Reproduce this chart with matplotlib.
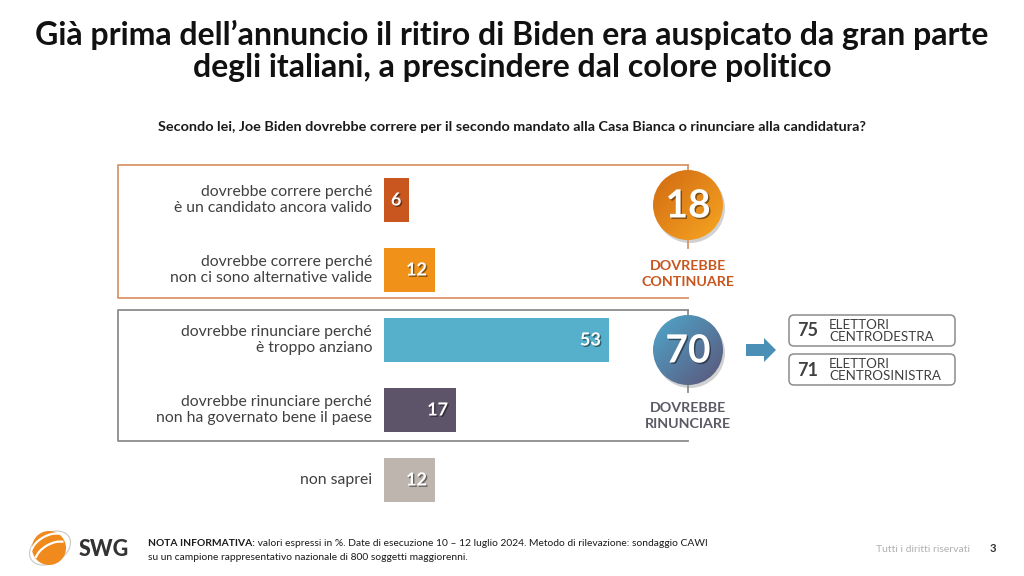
"""
Sondaggio SWG - ritiro di Biden
"""

import numpy as np
import matplotlib
matplotlib.use('Agg')
import matplotlib.pyplot as plt
import matplotlib.patheffects as pe
from matplotlib.patches import Circle, Arc, FancyBboxPatch, FancyArrow
from matplotlib.colors import to_rgb

# dati
labels = [
    'dovrebbe correre perché\nè un candidato ancora valido',
    'dovrebbe correre perché\nnon ci sono alternative valide',
    'dovrebbe rinunciare perché\nè troppo anziano',
    'dovrebbe rinunciare perché\nnon ha governato bene il paese',
    'non saprei',
]
values = [6, 12, 53, 17, 12]
bar_colors = ['#C8561E', '#F0921A', '#56AFCB', '#5E5469', '#BDB5AE']

totals = [18, 70]
total_labels = ['DOVREBBE\nCONTINUARE', 'DOVREBBE\nRINUNCIARE']
total_colors = ['#C8561E', '#5A5A66']

elettori_values = [75, 71]
elettori_labels = ['ELETTORI\nCENTRODESTRA', 'ELETTORI\nCENTROSINISTRA']

title = ("Già prima dell’annuncio il ritiro di Biden era auspicato da gran parte\n"
         "degli italiani, a prescindere dal colore politico")
subtitle = ("Secondo lei, Joe Biden dovrebbe correre per il secondo mandato "
            "alla Casa Bianca o rinunciare alla candidatura?")
nota_bold = 'NOTA INFORMATIVA:'
nota = (' valori espressi in %. Date di esecuzione 10 – 12 luglio 2024. '
        'Metodo di rilevazione: sondaggio CAWI')
nota2 = 'su un campione rappresentativo nazionale di 800 soggetti maggiorenni.'

plt.rcParams['font.family'] = ['Lato', 'DejaVu Sans']

W, H = 1024, 576
fig = plt.figure(figsize=(10.24, 5.76), dpi=100)
fig.patch.set_facecolor('white')

# overlay in coordinate pixel per cornici e testi
ov = fig.add_axes([0, 0, 1, 1])
ov.set_xlim(0, W)
ov.set_ylim(H, 0)
ov.axis('off')

# asse delle barre: 0..60 %, categorie 0..4 (70 px di passo)
px_per_unit = 225 / 53
x_left, x_max = 384, 60
y_top, y_bot = 165, 515
ax = fig.add_axes([x_left / W, 1 - y_bot / H, x_max * px_per_unit / W, (y_bot - y_top) / H])
ax.set_xlim(0, x_max)
ax.set_ylim(len(values) - 0.5, -0.5)
ax.axis('off')
ax.patch.set_alpha(0)

ypos = np.arange(len(values))
ax.barh(ypos, values, height=0.63, color=bar_colors)
shadow = [pe.withSimplePatchShadow(offset=(1, -1), shadow_rgbFace='black', alpha=0.45)]
for y, v in zip(ypos, values):
    ax.text(v - 1.9, y, str(v), ha='right', va='center', color='white',
            fontsize=13, fontweight='bold', path_effects=shadow)
    ax.text(-12 / px_per_unit, y, labels[y], ha='right', va='center',
            color='#404040', fontsize=11.3, linespacing=1.2)

# titolo e domanda
ov.text(512, 51, title, ha='center', va='center', fontsize=23,
        fontweight='bold', color='#111111', linespacing=1.12)
ov.text(512, 127, subtitle, ha='center', va='center', fontsize=10.4,
        fontweight='bold', color='#1A1A1A')

# cornici
ov.plot([688, 118, 118, 688], [165, 165, 298, 298], color='#D9956A', lw=1.3)
ov.plot([688, 118, 118, 688], [310, 310, 441, 441], color='#8C8C8C', lw=1.3)
ov.plot([688, 688], [165, 172], color='#D9956A', lw=1.3)
ov.plot([688, 688], [238, 248], color='#D9956A', lw=1.3)
ov.plot([688, 688], [310, 316], color='#8C8C8C', lw=1.3)
ov.plot([688, 688], [384, 392], color='#8C8C8C', lw=1.3)


def gradient_circle(cx, cy, r, c1, c2):
    n = 200
    gx, gy = np.meshgrid(np.linspace(0, 1, n), np.linspace(0, 1, n))
    t = np.clip((gx + gy) / 2, 0, 1)[..., None]
    img = (1 - t) * np.array(to_rgb(c1)) + t * np.array(to_rgb(c2))
    ov.add_patch(Circle((cx + 2, cy + 3), r, color='#000000', alpha=0.18, lw=0))
    circ = Circle((cx, cy), r, transform=ov.transData, facecolor='none', lw=0)
    ov.add_patch(circ)
    im = ov.imshow(img, extent=(cx - r, cx + r, cy + r, cy - r), origin='upper',
                   aspect='auto', zorder=3)
    im.set_clip_path(circ)


circle_y = [205, 350]
circle_cols = [('#D06A12', '#F8A622'), ('#4FA8CC', '#5B5478')]
text_y = [274, 416]
for i, tot in enumerate(totals):
    gradient_circle(688, circle_y[i], 35, *circle_cols[i])
    ov.text(688, circle_y[i] + 1, str(tot), ha='center', va='center', color='white',
            fontsize=28, fontweight='bold', zorder=4, path_effects=shadow)
    ov.text(688, text_y[i], total_labels[i], ha='center', va='center',
            color=total_colors[i], fontsize=10.3, fontweight='bold', linespacing=1.3)
ov.set_xlim(0, W)
ov.set_ylim(H, 0)

# freccia e riquadri elettori
ov.add_patch(FancyArrow(746, 350, 18, 0, width=12, head_width=24, head_length=12,
                        length_includes_head=False, color='#4A8FB5', lw=0))
box_y = [315, 354]
for i, (v, lab) in enumerate(zip(elettori_values, elettori_labels)):
    ov.add_patch(FancyBboxPatch((789, box_y[i]), 166, 31,
                                boxstyle='round,pad=0,rounding_size=5',
                                facecolor='white', edgecolor='#8C8C8C', lw=1.1))
    ov.text(808, box_y[i] + 16, str(v), ha='center', va='center',
            color='#404040', fontsize=13, fontweight='bold')
    ov.text(829, box_y[i] + 16, lab, ha='left', va='center',
            color='#404040', fontsize=9.6, linespacing=1.0)

# piè di pagina: logo
ov.add_patch(Arc((50, 548), 44, 30, angle=-30, theta1=0, theta2=360,
                 color='#C8C8C8', lw=0.8))
ov.add_patch(Circle((49, 548), 17, color='#F08A1C', lw=0))
for k, off in enumerate([-9, -1, 7]):
    ov.add_patch(Arc((49 + off * 0.5, 548 + off), 38, 22, angle=-30,
                     theta1=200, theta2=340, color='white', lw=1.6))
ov.text(79, 549, 'SWG', ha='left', va='center', fontsize=15.5, fontweight='black',
        color='#333333')
t = ov.text(148, 543, nota_bold, ha='left', va='center', fontsize=7.4,
            fontweight='bold', color='#1A1A1A')
fig.canvas.draw()
bb = t.get_window_extent()
ov.text(148 + bb.width, 543, nota, ha='left', va='center', fontsize=7.4, color='#1A1A1A')
ov.text(148, 558, nota2, ha='left', va='center', fontsize=7.4, color='#1A1A1A')
ov.text(970, 549, 'Tutti i diritti riservati', ha='right', va='center',
        fontsize=7.5, color='#B0B0B0')
ov.text(993, 549, '3', ha='center', va='center', fontsize=8,
        fontweight='bold', color='#333333')

fig.savefig('out.png', dpi=100)
plt.close(fig)
